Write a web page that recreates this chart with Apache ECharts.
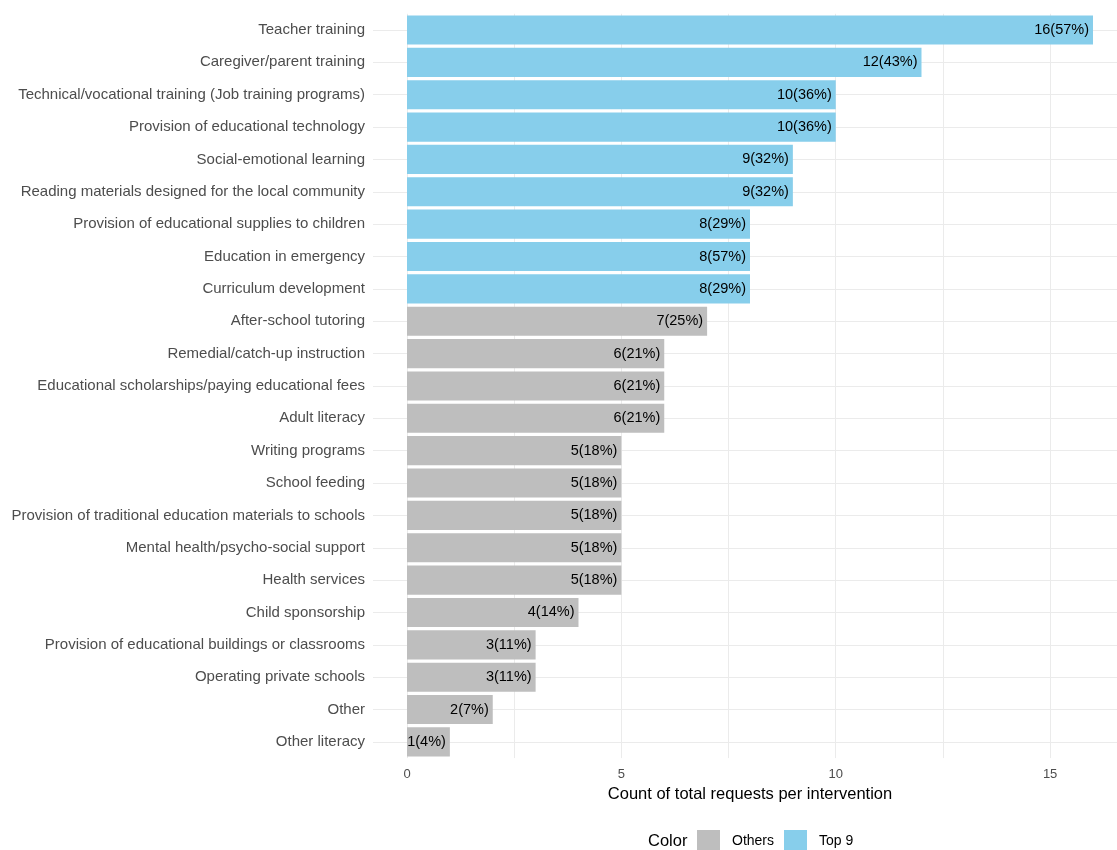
<!DOCTYPE html>
<html>
<head>
<meta charset="utf-8">
<script src="https://cdn.jsdelivr.net/npm/echarts@6/dist/echarts.min.js"></script>
<style>html,body{margin:0;padding:0;background:#fff}#c{width:1117px;height:850px}</style>
</head>
<body>
<div id="c"></div>
<script>
const categories = [
  "Teacher training",
  "Caregiver/parent training",
  "Technical/vocational training (Job training programs)",
  "Provision of educational technology",
  "Social-emotional learning",
  "Reading materials designed for the local community",
  "Provision of educational supplies to children",
  "Education in emergency",
  "Curriculum development",
  "After-school tutoring",
  "Remedial/catch-up instruction",
  "Educational scholarships/paying educational fees",
  "Adult literacy",
  "Writing programs",
  "School feeding",
  "Provision of traditional education materials to schools",
  "Mental health/psycho-social support",
  "Health services",
  "Child sponsorship",
  "Provision of educational buildings or classrooms",
  "Operating private schools",
  "Other",
  "Other literacy"
];
const counts = [16,12,10,10,9,9,8,8,8,7,6,6,6,5,5,5,5,5,4,3,3,2,1];
const labels = ["16(57%)","12(43%)","10(36%)","10(36%)","9(32%)","9(32%)","8(29%)","8(57%)","8(29%)","7(25%)","6(21%)","6(21%)","6(21%)","5(18%)","5(18%)","5(18%)","5(18%)","5(18%)","4(14%)","3(11%)","3(11%)","2(7%)","1(4%)"];
const groups = ["Top 9","Top 9","Top 9","Top 9","Top 9","Top 9","Top 9","Top 9","Top 9","Others","Others","Others","Others","Others","Others","Others","Others","Others","Others","Others","Others","Others","Others"];
const xMajorTicks = [0,5,10,15];
const xGridTicks = [0,2.5,5,7.5,10,12.5,15];

const colors = {"Others":"#BEBEBE","Top 9":"#87CEEB"};
const font = "Liberation Sans, Arial, sans-serif";

function seriesFor(g){
  return {
    name: g, type: 'bar', stack: 'all', barWidth: '90%',
    yAxisIndex: 0,
    itemStyle: {color: colors[g]},
    label: {
      show: true, position: 'insideRight', distance: 4,
      color: '#000', fontSize: 14.5, fontFamily: font,
      formatter: p => labels[p.dataIndex]
    },
    z: 3,
    data: counts.map((v,i) => groups[i] === g ? v : '-')
  };
}

const chart = echarts.init(document.getElementById('c'), null, {renderer:'canvas'});
chart.setOption({
  animation: false,
  backgroundColor: '#fff',
  grid: {left: 373, top: 13.8, right: 0, height: 744.3, containLabel: false},
  xAxis: {
    type: 'value', min: -0.793, max: 16.56,
    axisLine: {show: false}, axisTick: {show: false, customValues: xGridTicks},
    axisLabel: {customValues: xMajorTicks, color: '#4D4D4D', fontSize: 13, fontFamily: font, margin: 10},
    splitLine: {show: true, lineStyle: {color: '#EBEBEB', width: 1}}
  },
  yAxis: [{
    type: 'category', inverse: true, data: categories,
    axisLine: {show: false}, axisTick: {show: false},
    axisLabel: {color: '#4D4D4D', fontSize: 15, fontFamily: font, margin: 8},
    splitLine: {show: false}
  },{
    type: 'value', inverse: true, min: 0.5, max: 23.5,
    position: 'left',
    axisLine: {show: false}, axisTick: {show: false, customValues: categories.map((c,i)=>i+1)},
    axisLabel: {show: false},
    splitLine: {show: true, lineStyle: {color: '#EBEBEB', width: 1}}
  }],
  legend: {
    data: ['Others','Top 9'], left: 697, top: 830, padding: 0,
    icon: 'rect', itemWidth: 23, itemHeight: 22, itemGap: 10,
    textStyle: {color: '#000', fontSize: 14, fontFamily: font, padding: [0,0,0,7]}
  },
  graphic: [{
    type: 'text', x: 648, y: 841,
    style: {text: 'Color', fill: '#000', font: '16.5px ' + font, verticalAlign: 'middle'}
  },{
    type: 'text', x: 750, y: 794,
    style: {text: 'Count of total requests per intervention', fill: '#000', font: '16.5px ' + font, align: 'center', verticalAlign: 'middle'}
  }],
  series: [seriesFor('Others'), seriesFor('Top 9')]
});
</script>
</body>
</html>
